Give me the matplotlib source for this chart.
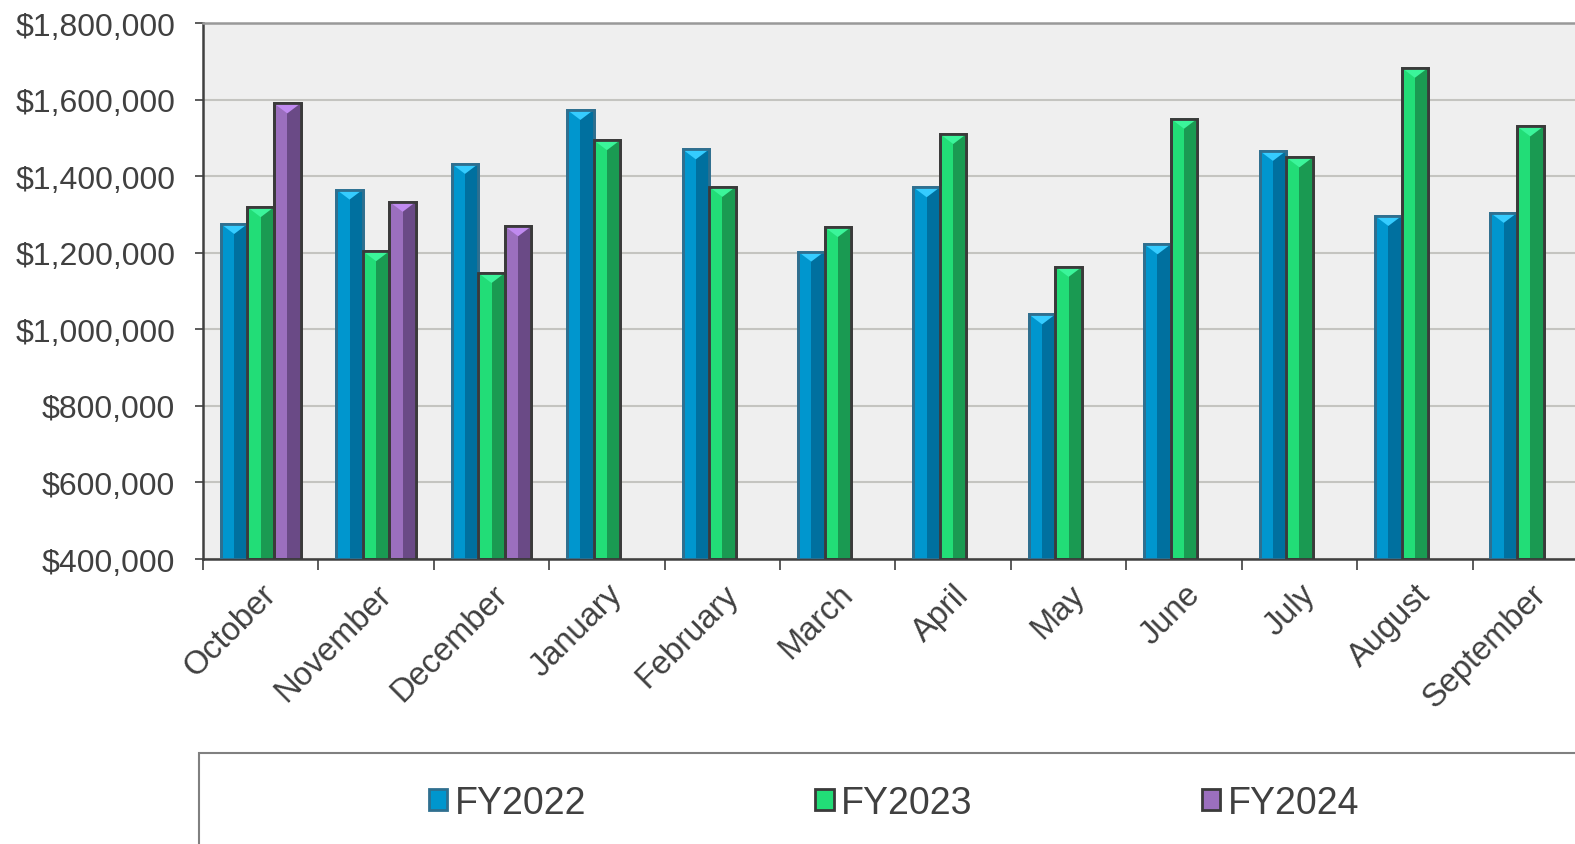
import numpy as np
import matplotlib
matplotlib.use('Agg')
import matplotlib.pyplot as plt
from matplotlib.patches import Rectangle
from matplotlib.ticker import FuncFormatter

# Monthly totals by fiscal year (FY starts in October)
months = ['October', 'November', 'December', 'January', 'February', 'March',
          'April', 'May', 'June', 'July', 'August', 'September']
fy2022 = [1275000, 1365000, 1432000, 1573000, 1470000, 1203000,
          1371000, 1039000, 1222000, 1466000, 1296000, 1304000]
fy2023 = [1319000, 1204000, 1147000, 1494000, 1372000, 1267000,
          1510000, 1163000, 1550000, 1449000, 1683000, 1530000]
fy2024 = [1590000, 1333000, 1269000, np.nan, np.nan, np.nan,
          np.nan, np.nan, np.nan, np.nan, np.nan, np.nan]
series_names = ['FY2022', 'FY2023', 'FY2024']

plt.rcParams['font.family'] = ['Liberation Sans', 'DejaVu Sans']
text_color = '#404040'

# (light face, dark half, top bevel, edge)
styles = [
    ('#0096CE', '#00709F', '#35CCFF', '#2F6F8F'),
    ('#22DD77', '#1A9A52', '#3BF59A', '#3A3A3A'),
    ('#9B6FBE', '#6A4A86', '#C08AF0', '#3A3A3A'),
]

fig = plt.figure(figsize=(15.75, 8.45), dpi=100)
ax = fig.add_axes([203 / 1575, 1 - 560 / 845, 1385 / 1575, 536 / 845])
ax.set_facecolor('#EFEFEF')

x = np.arange(len(months))
width = 0.23
ymin, ymax = 400000, 1800000
cap = (ymax - ymin) * 10 / 536  # bevel depth, ~10 px

handles = []
for i, vals in enumerate([fy2022, fy2023, fy2024]):
    light, dark, top, edge = styles[i]
    vals = np.array(vals, dtype=float)
    pos = x + (i - 1) * width
    h = ax.bar(pos, vals - ymin, width, bottom=ymin, color=light,
               edgecolor=edge, linewidth=2, zorder=3, label=series_names[i])
    ax.bar(pos + width / 4, vals - ymin, width / 2, bottom=ymin, color=dark,
           linewidth=0, zorder=3.5)
    for p, v in zip(pos, vals):
        if np.isnan(v):
            continue
        ax.fill([p - width / 2, p + width / 2, p], [v, v, v - cap],
                color=top, linewidth=0, zorder=3.6)
    ax.bar(pos, vals - ymin, width, bottom=ymin, fill=False,
           edgecolor=edge, linewidth=2, zorder=3.7)
    handles.append(h)

ax.set_ylim(ymin, ymax)
ax.set_xlim(-0.5, len(months) - 0.5)
ax.set_yticks(np.arange(400000, 1800001, 200000))
ax.yaxis.set_major_formatter(FuncFormatter(lambda v, p: '${:,.0f}'.format(v)))
ax.grid(axis='y', color='#C4C4C0', linewidth=1.5, zorder=1)
ax.set_axisbelow(True)

ax.set_xticks(x)
ax.set_xticklabels(months, rotation=45, ha='right', va='top',
                   rotation_mode='anchor', fontsize=23.5, color=text_color)
ax.set_xticks(np.arange(len(months)) - 0.5, minor=True)
ax.tick_params(axis='x', which='major', length=0, pad=14)
ax.tick_params(axis='x', which='minor', length=8, width=1.2, color='#404040')
ax.tick_params(axis='y', length=6, width=1.2, color='#404040', pad=14,
               labelsize=23, labelcolor=text_color)

for s in ['left', 'bottom']:
    ax.spines[s].set_color('#404040')
    ax.spines[s].set_linewidth(1.8)
ax.spines['top'].set_color('#999999')
ax.spines['top'].set_linewidth(1.8)
ax.spines['right'].set_visible(False)

# legend box running off the bottom-right of the image
fig.patches.append(Rectangle((199 / 1575, -0.05), 1.0, 1 - 754 / 845 + 0.05,
                             transform=fig.transFigure, fill=False,
                             edgecolor='#808080', linewidth=1.5))
leg = fig.legend(handles=handles, loc='center', ncol=3,
                 bbox_to_anchor=(894 / 1575, 1 - 804 / 845),
                 frameon=False, fontsize=27, handlelength=0.5,
                 handleheight=0.5, handletextpad=0.2, columnspacing=6.1)
for t in leg.get_texts():
    t.set_color(text_color)

fig.savefig('out.png', dpi=100)
